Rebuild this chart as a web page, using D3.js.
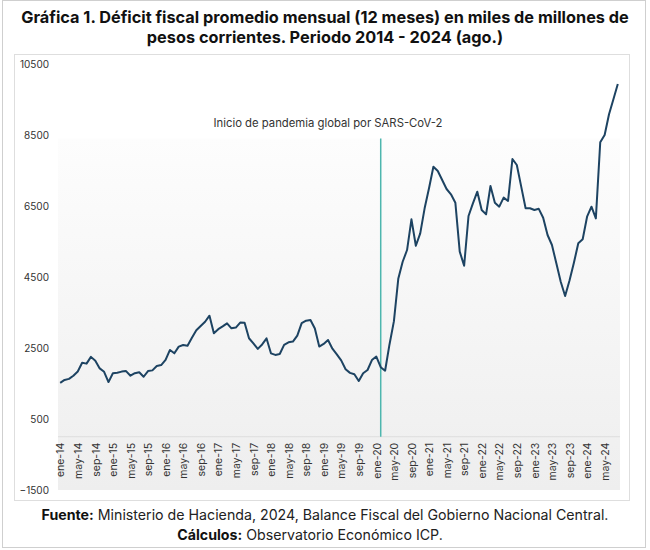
<!DOCTYPE html>
<html><head><meta charset="utf-8">
<script src="https://cdn.jsdelivr.net/npm/d3@7"></script>
<style>
body{margin:0;background:#fff;}
svg{display:block;font-family:"Inter","Open Sans",sans-serif;}
</style></head>
<body><svg id="chart" width="650" height="550"></svg>
<script>
const monthNames = ["ene","feb","mar","abr","may","jun","jul","ago","sep","oct","nov","dic"];
const years = [14,15,16,17,18,19,20,21,22,23,24];
const lastMonthCount = 8; // data through ago-24
const deficit = [
 1520,1600,1630,1720,1840,2085,2060,2250,2140,1925,1830,1540,
 1790,1805,1835,1850,1720,1790,1815,1690,1850,1870,1995,2020,
 2165,2445,2350,2540,2585,2565,2790,3000,3120,3240,3410,2915,
 3030,3110,3195,3055,3075,3215,3210,2775,2630,2475,2600,2770,
 2350,2305,2330,2590,2660,2680,2850,3200,3270,3290,3050,2540,
 2615,2725,2480,2320,2150,1900,1800,1760,1570,1790,1880,2160,
 2260,1960,1860,2600,3250,4450,4930,5260,6125,5380,5730,6435,
 7000,7607,7486,7232,6979,6829,6594,5214,4818,6218,6575,6904,
 6388,6265,7063,6594,6481,6735,6641,7824,7655,7045,6435,6435,
 6388,6420,6170,5683,5401,4885,4368,3965,4400,4900,5450,5563,
 6199,6481,6152,8294,8500,9083,9506,9937
];
const yTicks = [-1500,500,2500,4500,6500,8500,10500];
const pandemicMonth = "feb-20";
const pandemicTop = 8400;
const pandemicLabel = "Inicio de pandemia global por SARS-CoV-2";
const titleLines = ["Gráfica 1. Déficit fiscal promedio mensual (12 meses) en miles de millones de","pesos corrientes. Periodo 2014 - 2024 (ago.)"];

const categories = [];
years.forEach((y,yi)=>monthNames.forEach((m,mi)=>{
  if (yi < years.length-1 || mi < lastMonthCount) categories.push(m+"-"+y);
}));
const data = categories.map((c,i)=>({c, v:deficit[i]}));
const xTicks = categories.filter((c,i)=>i%4===0);

const svg = d3.select("#chart");
// outer frame
svg.append("rect").attr("x",2.5).attr("y",0.5).attr("width",643).attr("height",547)
  .attr("fill","#fff").attr("stroke","#cfcfcf");
svg.append("rect").attr("x",14.5).attr("y",54.5).attr("width",615).attr("height",446)
  .attr("fill","#fff").attr("stroke","#dedede");

// title
svg.append("g").selectAll("text").data(titleLines).join("text")
  .attr("x",325).attr("y",(d,i)=>23+i*20).attr("text-anchor","middle")
  .attr("font-size",16.3).attr("font-weight",700).attr("fill","#111").text(d=>d);

const x = d3.scalePoint().domain(categories).range([58,620]).padding(0.5);
const y = d3.scaleLinear().domain([-1500,10500]).range([490,64]);

// plot background gradient
const defs = svg.append("defs");
const grad = defs.append("linearGradient").attr("id","bg").attr("x1",0).attr("y1",0).attr("x2",0).attr("y2",1);
grad.append("stop").attr("offset","0%").attr("stop-color","#fdfdfd");
grad.append("stop").attr("offset","100%").attr("stop-color","#eeeeee");
svg.append("rect").attr("x",58).attr("y",y(8400)).attr("width",562).attr("height",490-y(8400))
  .attr("fill","url(#bg)");

// y axis
const yAxis = d3.axisLeft(y).tickValues(yTicks).tickSize(0).tickPadding(8).tickFormat(d3.format("d"));
svg.append("g").attr("transform","translate(57,0)").call(yAxis)
  .call(g=>g.select(".domain").remove())
  .selectAll("text").attr("font-size",10).attr("fill","#333").attr("font-family","Inter, sans-serif");

// x axis line at 0
const xAxis = d3.axisBottom(x).tickValues(xTicks).tickSize(0).tickPadding(6);
const xg = svg.append("g").attr("transform",`translate(0,${y(0)})`).call(xAxis);
xg.select(".domain").attr("stroke","#dddddd").attr("d",`M58,0H620`);
xg.selectAll("text").attr("font-size",10.5).attr("fill","#333").attr("font-family","Inter, sans-serif")
  .attr("text-anchor","end").attr("transform","rotate(-90)")
  .attr("x",-6).attr("y",0).attr("dy","0.35em");

// pandemic line
svg.append("line").attr("x1",x(pandemicMonth)).attr("x2",x(pandemicMonth))
  .attr("y1",y(0)).attr("y2",y(pandemicTop)).attr("stroke","#4db6ae").attr("stroke-width",1.5);
svg.append("text").attr("x",328).attr("y",127).attr("text-anchor","middle")
  .attr("font-size",11.3).attr("fill","#333").text(pandemicLabel);

// series line
svg.append("path").datum(data).attr("fill","none").attr("stroke","#1d4362").attr("stroke-width",2)
  .attr("stroke-linejoin","round")
  .attr("d",d3.line().x(d=>x(d.c)).y(d=>y(d.v)));

// footer
const f1 = svg.append("text").attr("x",325).attr("y",520).attr("text-anchor","middle").attr("font-size",14.2).attr("fill","#222");
f1.append("tspan").attr("font-weight",700).attr("fill","#111").text("Fuente:");
f1.append("tspan").text(" Ministerio de Hacienda, 2024, Balance Fiscal del Gobierno Nacional Central.");
const f2 = svg.append("text").attr("x",310).attr("y",540).attr("text-anchor","middle").attr("font-size",14.2).attr("fill","#222");
f2.append("tspan").attr("font-weight",700).attr("fill","#111").text("Cálculos:");
f2.append("tspan").text(" Observatorio Económico ICP.");
</script></body></html>
